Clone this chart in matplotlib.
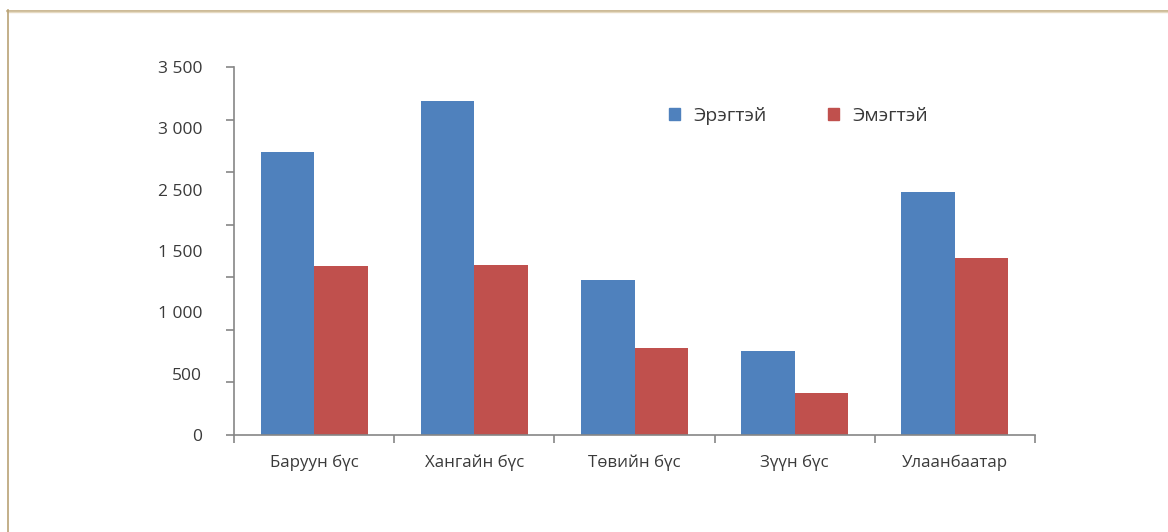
import matplotlib.pyplot as plt
from matplotlib.lines import Line2D
from matplotlib.patches import Patch
import numpy as np

plt.rcParams['font.family'] = ['Open Sans', 'DejaVu Sans']

# Data
regions = ['Баруун бүс', 'Хангайн бүс', 'Төвийн бүс', 'Зүүн бүс', 'Улаанбаатар']
male = [2690, 3175, 1475, 800, 2310]
female = [1605, 1615, 825, 400, 1680]
series_names = ['Эрэгтэй', 'Эмэгтэй']
# tick labels as drawn in the source (evenly spaced, 2 000 missing)
ytick_labels = ['0', '500', '1 000', '1 500', '2 500', '3 000', '3 500']

blue = '#4F81BD'
red = '#C0504D'
axis_gray = '#868686'
text_col = '#3A3A3A'

fig = plt.figure(figsize=(11.68, 5.32), dpi=100)
W, H = 1168, 532
ax = fig.add_axes([234 / W, 1 - 435 / H, (1035 - 234) / W, (435 - 67) / H])

x = np.arange(len(regions))
bw = 0.334
ax.bar(x - bw / 2, male, bw, color=blue, linewidth=0, label=series_names[0])
ax.bar(x + bw / 2, female, bw, color=red, linewidth=0, label=series_names[1])

ax.set_xlim(-0.5, len(regions) - 0.5)
ax.set_ylim(0, 3500)

for s in ['top', 'right']:
    ax.spines[s].set_visible(False)
for s in ['left', 'bottom']:
    ax.spines[s].set_color(axis_gray)
    ax.spines[s].set_linewidth(1.2)

ax.xaxis.remove_overlapping_locs = False
ax.yaxis.remove_overlapping_locs = False

# y axis: tick marks every 500, labels spread evenly like the original
ax.set_yticks(np.arange(0, 3501, 500))
ax.set_yticklabels([])
ax.set_yticks(np.linspace(0, 3500, len(ytick_labels)), minor=True)
ax.set_yticklabels(ytick_labels, minor=True)
ax.tick_params(axis='y', which='major', length=6, width=1.2, color=axis_gray, direction='out')
ax.tick_params(axis='y', which='minor', length=0, pad=23, labelsize=12.5, labelcolor=text_col)

# x axis: marks at group boundaries, labels at centres
ax.set_xticks(np.arange(-0.5, len(regions), 1.0))
ax.set_xticklabels([])
ax.set_xticks(x, minor=True)
ax.set_xticklabels(regions, minor=True)
ax.tick_params(axis='x', which='major', length=6, width=1.2, color=axis_gray, direction='out')
ax.tick_params(axis='x', which='minor', length=0, pad=14, labelsize=12.2, labelcolor=text_col)

handles = [Patch(color=blue), Patch(color=red)]
fig.legend(handles, series_names, loc='center left',
           bbox_to_anchor=(669 / W, 1 - 116 / H), ncol=2, frameon=False,
           handlelength=0.58, handleheight=0.58, handletextpad=0.7,
           columnspacing=3.1, borderpad=0, borderaxespad=0,
           prop={'size': 14}, labelcolor=text_col)

# outer frame lines (top and left)
fig.add_artist(Line2D([7 / W, 1], [1 - 10.5 / H, 1 - 10.5 / H], color='#C4AE84', lw=1.2))
fig.add_artist(Line2D([7 / W, 1], [1 - 12 / H, 1 - 12 / H], color='#E6DAC2', lw=1.0))
fig.add_artist(Line2D([7.5 / W, 7.5 / W], [0, 1 - 10 / H], color='#B9A276', lw=1.2))

fig.savefig('out.png', dpi=100)
